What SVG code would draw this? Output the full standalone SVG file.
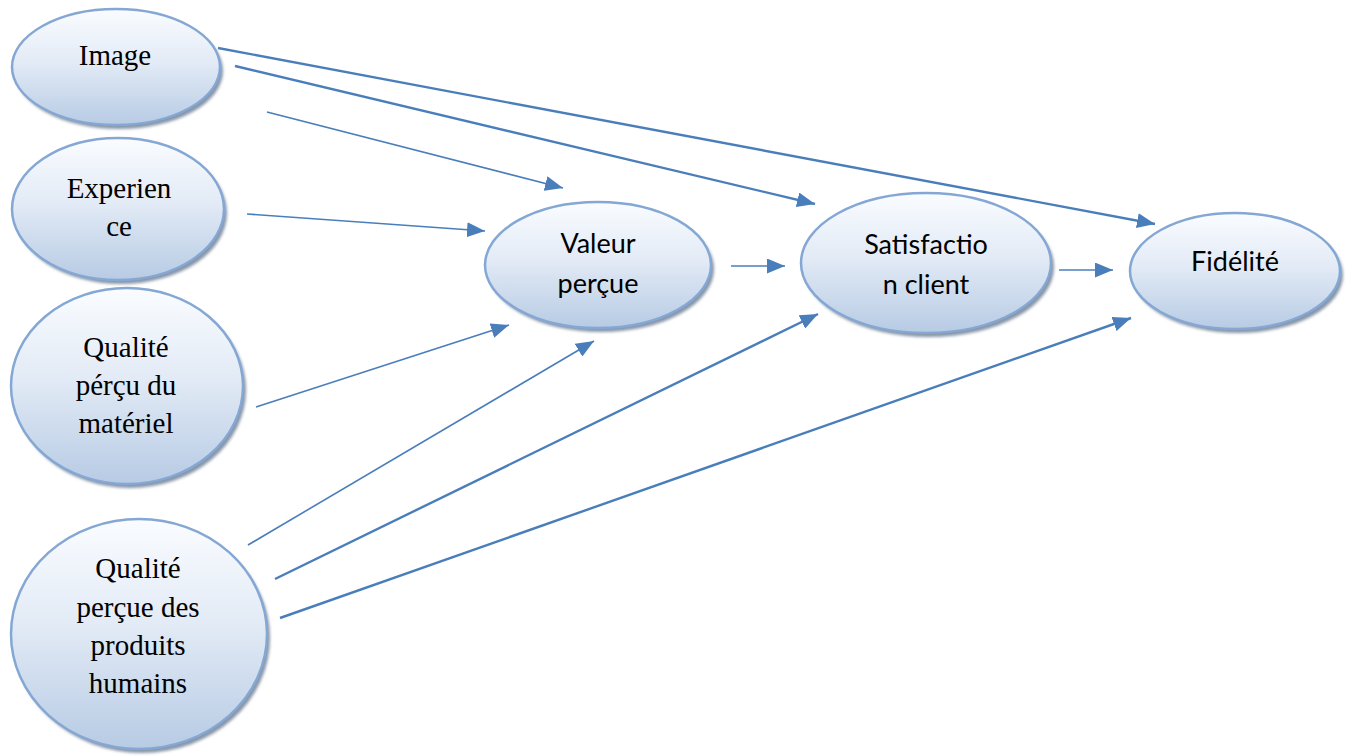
<svg xmlns="http://www.w3.org/2000/svg" width="1350" height="756" viewBox="0 0 1350 756">
  <defs>
    <linearGradient id="fillGrad" x1="0" y1="0" x2="0" y2="1">
      <stop offset="0" stop-color="#fafcff"/>
      <stop offset="0.45" stop-color="#e3ebf6"/>
      <stop offset="1" stop-color="#b7cbe4"/>
    </linearGradient>
    <filter id="soft" x="-10%" y="-10%" width="120%" height="120%">
      <feGaussianBlur stdDeviation="1.5"/>
    </filter>
    <marker id="arrow" markerUnits="userSpaceOnUse" markerWidth="18" markerHeight="15" refX="18" refY="7.5" orient="auto">
      <path d="M0,0 L18,7.5 L0,15 Z" fill="#4a7ebb"/>
    </marker>
  </defs>
  <style>
    .shadow { fill: #8795a8; filter: url(#soft); }
    .node { fill: url(#fillGrad); stroke: #84a7d4; stroke-width: 2.5; }
    .serif { font-family: "Liberation Serif", "Times New Roman", serif; font-size: 29px; fill: #000; text-anchor: middle; }
    .sans { font-family: Lato, "Liberation Sans", sans-serif; font-size: 27px; fill: #000; text-anchor: middle; }
    .link { stroke: #4a7ebb; fill: none; marker-end: url(#arrow); }
    .thin { stroke-width: 1.6; }
    .thick { stroke-width: 2.4; }
  </style>

  <rect width="1350" height="756" fill="#ffffff"/>

  <!-- connectors -->
  <g id="connectors">
    <line class="link thick" x1="218" y1="48" x2="1155" y2="224"/>
    <line class="link thick" x1="235" y1="66" x2="815" y2="204"/>
    <line class="link thin" x1="267" y1="112" x2="563" y2="188"/>
    <line class="link thin" x1="247" y1="214" x2="485" y2="231"/>
    <line class="link thin" x1="256" y1="407" x2="509" y2="325"/>
    <line class="link thin" x1="248" y1="545" x2="594" y2="341"/>
    <line class="link thick" x1="275" y1="579" x2="818" y2="314"/>
    <line class="link thick" x1="280" y1="618" x2="1131" y2="318"/>
    <line class="link thin" x1="731" y1="266" x2="785" y2="266"/>
    <line class="link thin" x1="1059" y1="270" x2="1113" y2="270"/>
  </g>

  <!-- source nodes -->
  <g id="image">
    <ellipse class="shadow" cx="119" cy="71" rx="104" ry="58"/>
    <ellipse class="node" cx="116" cy="67" rx="104" ry="58"/>
    <text class="serif" x="115" y="65">Image</text>
  </g>

  <g id="experience">
    <ellipse class="shadow" cx="121" cy="213" rx="106" ry="71"/>
    <ellipse class="node" cx="118" cy="209" rx="106" ry="71"/>
    <text class="serif" x="119" y="198">Experien</text>
    <text class="serif" x="119" y="236">ce</text>
  </g>

  <g id="qualite-materiel">
    <ellipse class="shadow" cx="130" cy="390" rx="116" ry="98"/>
    <ellipse class="node" cx="127" cy="386" rx="116" ry="98"/>
    <text class="serif" x="126" y="357">Qualité</text>
    <text class="serif" x="126" y="395">pérçu du</text>
    <text class="serif" x="126" y="433">matériel</text>
  </g>

  <g id="qualite-humains">
    <ellipse class="shadow" cx="142" cy="638" rx="128" ry="115"/>
    <ellipse class="node" cx="139" cy="634" rx="128" ry="115"/>
    <text class="serif" x="138" y="578">Qualité</text>
    <text class="serif" x="138" y="617">perçue des</text>
    <text class="serif" x="138" y="655">produits</text>
    <text class="serif" x="138" y="693">humains</text>
  </g>

  <!-- outcome nodes -->
  <g id="valeur">
    <ellipse class="shadow" cx="601" cy="269" rx="113" ry="63"/>
    <ellipse class="node" cx="598" cy="265" rx="113" ry="63"/>
    <text class="sans" x="598" y="253">Valeur</text>
    <text class="sans" x="598" y="293">perçue</text>
  </g>

  <g id="satisfaction">
    <ellipse class="shadow" cx="929" cy="267" rx="125" ry="70"/>
    <ellipse class="node" cx="926" cy="263" rx="125" ry="70"/>
    <text class="sans" x="926" y="254">Satisfactio</text>
    <text class="sans" x="926" y="294">n client</text>
  </g>

  <g id="fidelite">
    <ellipse class="shadow" cx="1238" cy="275" rx="105" ry="58"/>
    <ellipse class="node" cx="1235" cy="271" rx="105" ry="58"/>
    <text class="sans" x="1235" y="271">Fidélité</text>
  </g>
</svg>
